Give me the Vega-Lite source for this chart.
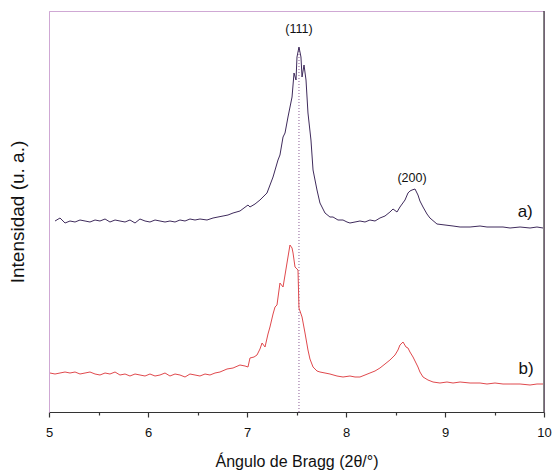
{
  "$schema": "https://vega.github.io/schema/vega-lite/v6.json",
  "width": 495,
  "height": 401,
  "autosize": "none",
  "padding": {"left": 49, "top": 11, "right": 9, "bottom": 61},
  "config": {
    "font": "Liberation Sans",
    "view": {"stroke": "#cfa8d4", "strokeWidth": 1}
  },
  "datasets": {
    "a": [
      {"x":5.061,"y":191},{"x":5.111,"y":194},{"x":5.162,"y":189},{"x":5.212,"y":191},{"x":5.263,"y":190},{"x":5.313,"y":192},{"x":5.364,"y":191},{"x":5.414,"y":190},{"x":5.465,"y":192},{"x":5.515,"y":191},{"x":5.566,"y":193},{"x":5.616,"y":190},{"x":5.667,"y":192},{"x":5.717,"y":191},{"x":5.768,"y":190},{"x":5.818,"y":192},{"x":5.869,"y":189},{"x":5.919,"y":193},{"x":5.970,"y":191},{"x":6.020,"y":190},{"x":6.071,"y":192},{"x":6.121,"y":191},{"x":6.172,"y":190},{"x":6.222,"y":191},{"x":6.273,"y":190},{"x":6.323,"y":192},{"x":6.374,"y":191},{"x":6.424,"y":193},{"x":6.475,"y":192},{"x":6.525,"y":193},{"x":6.596,"y":192},{"x":6.657,"y":194},{"x":6.707,"y":195},{"x":6.758,"y":196},{"x":6.808,"y":197},{"x":6.859,"y":199},{"x":6.929,"y":201},{"x":7.010,"y":207},{"x":7.030,"y":205},{"x":7.081,"y":208},{"x":7.131,"y":212},{"x":7.202,"y":219},{"x":7.263,"y":235},{"x":7.313,"y":252},{"x":7.333,"y":257},{"x":7.364,"y":275},{"x":7.384,"y":279},{"x":7.414,"y":295},{"x":7.455,"y":315},{"x":7.475,"y":339},{"x":7.495,"y":332},{"x":7.505,"y":355},{"x":7.525,"y":365},{"x":7.545,"y":355},{"x":7.556,"y":335},{"x":7.576,"y":347},{"x":7.596,"y":332},{"x":7.616,"y":299},{"x":7.646,"y":272},{"x":7.667,"y":242},{"x":7.707,"y":222},{"x":7.737,"y":209},{"x":7.788,"y":199},{"x":7.838,"y":195},{"x":7.869,"y":195},{"x":7.919,"y":192},{"x":7.970,"y":192},{"x":8.010,"y":190},{"x":8.040,"y":189},{"x":8.091,"y":190},{"x":8.141,"y":191},{"x":8.192,"y":190},{"x":8.242,"y":192},{"x":8.293,"y":191},{"x":8.343,"y":194},{"x":8.394,"y":196},{"x":8.444,"y":200},{"x":8.475,"y":203},{"x":8.515,"y":200},{"x":8.545,"y":205},{"x":8.596,"y":212},{"x":8.626,"y":219},{"x":8.646,"y":221},{"x":8.667,"y":222},{"x":8.697,"y":223},{"x":8.727,"y":217},{"x":8.747,"y":211},{"x":8.778,"y":205},{"x":8.818,"y":198},{"x":8.848,"y":194},{"x":8.919,"y":188},{"x":9.000,"y":187},{"x":9.081,"y":186},{"x":9.152,"y":185},{"x":9.253,"y":185},{"x":9.354,"y":186},{"x":9.424,"y":185},{"x":9.505,"y":185},{"x":9.586,"y":185},{"x":9.657,"y":184},{"x":9.758,"y":185},{"x":9.859,"y":184},{"x":9.929,"y":185},{"x":9.990,"y":184}
    ],
    "b": [
      {"x":5.010,"y":39},{"x":5.061,"y":38},{"x":5.111,"y":39},{"x":5.162,"y":40},{"x":5.212,"y":39},{"x":5.263,"y":40},{"x":5.313,"y":38},{"x":5.364,"y":39},{"x":5.414,"y":40},{"x":5.465,"y":38},{"x":5.515,"y":37},{"x":5.566,"y":39},{"x":5.616,"y":38},{"x":5.667,"y":40},{"x":5.717,"y":37},{"x":5.768,"y":38},{"x":5.818,"y":36},{"x":5.869,"y":38},{"x":5.919,"y":37},{"x":5.970,"y":36},{"x":6.020,"y":38},{"x":6.071,"y":36},{"x":6.121,"y":37},{"x":6.172,"y":39},{"x":6.222,"y":36},{"x":6.273,"y":38},{"x":6.323,"y":37},{"x":6.374,"y":35},{"x":6.424,"y":38},{"x":6.475,"y":37},{"x":6.525,"y":36},{"x":6.576,"y":38},{"x":6.626,"y":37},{"x":6.677,"y":39},{"x":6.727,"y":40},{"x":6.798,"y":43},{"x":6.859,"y":44},{"x":6.929,"y":47},{"x":6.980,"y":46},{"x":7.010,"y":45},{"x":7.030,"y":54},{"x":7.071,"y":55},{"x":7.101,"y":57},{"x":7.131,"y":63},{"x":7.152,"y":69},{"x":7.182,"y":65},{"x":7.212,"y":78},{"x":7.232,"y":85},{"x":7.263,"y":98},{"x":7.283,"y":105},{"x":7.303,"y":107},{"x":7.333,"y":129},{"x":7.364,"y":125},{"x":7.384,"y":137},{"x":7.404,"y":149},{"x":7.434,"y":167},{"x":7.455,"y":164},{"x":7.465,"y":159},{"x":7.485,"y":145},{"x":7.515,"y":142},{"x":7.525,"y":104},{"x":7.556,"y":95},{"x":7.586,"y":79},{"x":7.616,"y":62},{"x":7.636,"y":53},{"x":7.667,"y":45},{"x":7.707,"y":41},{"x":7.737,"y":40},{"x":7.788,"y":39},{"x":7.838,"y":38},{"x":7.909,"y":36},{"x":7.970,"y":35},{"x":8.040,"y":36},{"x":8.091,"y":35},{"x":8.141,"y":35},{"x":8.192,"y":37},{"x":8.242,"y":39},{"x":8.293,"y":41},{"x":8.343,"y":44},{"x":8.394,"y":48},{"x":8.444,"y":52},{"x":8.495,"y":57},{"x":8.525,"y":62},{"x":8.545,"y":67},{"x":8.576,"y":70},{"x":8.606,"y":65},{"x":8.626,"y":64},{"x":8.646,"y":60},{"x":8.677,"y":55},{"x":8.707,"y":49},{"x":8.727,"y":45},{"x":8.747,"y":40},{"x":8.778,"y":35},{"x":8.828,"y":32},{"x":8.879,"y":30},{"x":8.949,"y":29},{"x":9.020,"y":30},{"x":9.081,"y":29},{"x":9.152,"y":30},{"x":9.253,"y":29},{"x":9.354,"y":29},{"x":9.424,"y":28},{"x":9.505,"y":29},{"x":9.586,"y":28},{"x":9.657,"y":28},{"x":9.758,"y":28},{"x":9.859,"y":27},{"x":9.929,"y":28},{"x":9.990,"y":28}
    ],
    "labels": [
      {"t":"(111)","x":7.525,"y":383,"s":"small"},
      {"t":"(200)","x":8.667,"y":234,"s":"small"},
      {"t":"a)","x":9.81,"y":200,"s":"big"},
      {"t":"b)","x":9.82,"y":43,"s":"big"}
    ]
  },
  "layer": [
    {
      "data": {"values": [{"x": 7.525, "y0": 0, "y1": 366}]},
      "mark": {"type": "rule", "color": "#8b5c95", "strokeDash": [1, 2], "strokeWidth": 1},
      "encoding": {
        "x": {"field": "x", "type": "quantitative", "scale": {"domain": [5, 10], "nice": false, "zero": false}},
        "y": {"field": "y0", "type": "quantitative", "scale": {"domain": [0, 401], "nice": false}},
        "y2": {"field": "y1"}
      }
    },
    {
      "data": {"name": "a"},
      "mark": {"type": "line", "color": "#3f2b5c", "strokeWidth": 1},
      "encoding": {
        "x": {
          "field": "x", "type": "quantitative",
          "scale": {"domain": [5, 10], "nice": false, "zero": false},
          "axis": {
            "title": "Ángulo de Bragg (2θ/°)",
            "titleFont": "Liberation Sans", "titleFontSize": 16, "titleFontWeight": "normal", "titleColor": "#111",
            "titlePadding": 14,
            "values": [5, 5.5, 6, 6.5, 7, 7.5, 8, 8.5, 9, 9.5, 10],
            "labelExpr": "datum.value % 1 === 0 ? format(datum.value, 'd') : ''",
            "labelFontSize": 13, "labelColor": "#111", "labelPadding": 9, "labelFlush": false,
            "grid": false,
            "domainColor": "#333", "domainWidth": 1.2,
            "tickColor": "#333", "tickWidth": 1.2,
            "tickSize": {"condition": {"test": "datum.value % 1 !== 0", "value": 3}, "value": 5}
          }
        },
        "y": {
          "field": "y", "type": "quantitative",
          "scale": {"domain": [0, 401], "nice": false},
          "axis": {
            "title": "Intensidad (u. a.)",
            "titleFont": "Liberation Sans", "titleFontSize": 19, "titleFontWeight": "normal", "titleColor": "#111",
            "titlePadding": 22,
            "labels": false, "ticks": false, "grid": false,
            "domainColor": "#cfa8d4"
          }
        }
      }
    },
    {
      "data": {"name": "b"},
      "mark": {"type": "line", "color": "#e0494d", "strokeWidth": 1},
      "encoding": {
        "x": {"field": "x", "type": "quantitative"},
        "y": {"field": "y", "type": "quantitative"}
      }
    },
    {
      "data": {"name": "labels"},
      "mark": {"type": "text", "font": "Liberation Sans", "color": "#111", "align": "center", "baseline": "middle"},
      "encoding": {
        "x": {"field": "x", "type": "quantitative"},
        "y": {"field": "y", "type": "quantitative"},
        "text": {"field": "t"},
        "size": {"field": "s", "type": "nominal", "scale": {"domain": ["small", "big"], "range": [12.5, 17]}, "legend": null}
      }
    },
    {
      "data": {"values": [{"x": 10, "y0": 0, "y1": 401}]},
      "mark": {"type": "rule", "color": "#333", "strokeWidth": 1.2},
      "encoding": {
        "x": {"field": "x", "type": "quantitative"},
        "y": {"field": "y0", "type": "quantitative"},
        "y2": {"field": "y1"}
      }
    }
  ]
}
